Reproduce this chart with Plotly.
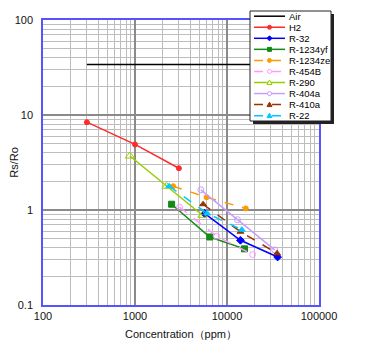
import plotly.graph_objects as go

series_names = ["Air", "H2", "R-32", "R-1234yf", "R-1234ze", "R-454B", "R-290", "R-404a", "R-410a", "R-22"]

x_tick_vals = [100, 1000, 10000, 100000]
x_tick_text = ["100", "1000", "10000", "100000"]
y_tick_vals = [0.1, 1, 10, 100]
y_tick_text = ["0.1", "1", "10", "100"]

air_x = [300, 30000]
air_y = [34, 34]
h2_x = [300, 1000, 3000]
h2_y = [8.4, 4.9, 2.75]
r32_x = [5700, 14000, 35500]
r32_y = [0.92, 0.48, 0.32]
r1234yf_x = [2500, 6500, 15500]
r1234yf_y = [1.15, 0.52, 0.39]
r1234ze_x = [2600, 6000, 16000]
r1234ze_y = [1.78, 1.36, 1.04]
r454b_x = [3050, 7700, 19000]
r454b_y = [1.07, 0.53, 0.34]
r290_x = [880, 2200, 5400]
r290_y = [3.7, 1.78, 0.88]
r404a_x = [5200, 13000, 33000]
r404a_y = [1.63, 0.79, 0.38]
r410a_x = [5500, 14000, 35000]
r410a_y = [1.15, 0.59, 0.35]
r22_x = [2350, 6100, 14500]
r22_y = [1.78, 0.92, 0.62]

xs = [air_x, h2_x, r32_x, r1234yf_x, r1234ze_x, r454b_x, r290_x, r404a_x, r410a_x, r22_x]
ys = [air_y, h2_y, r32_y, r1234yf_y, r1234ze_y, r454b_y, r290_y, r404a_y, r410a_y, r22_y]

colors = ["#000000", "#ff2a2a", "#0000ff", "#138a13", "#ff9a00", "#ff99ff", "#99cc00", "#c99cff", "#993300", "#00c8ff"]
dashes = ["solid", "solid", "solid", "solid", "dash", "dash", "solid", "solid", "dash", "dash"]
symbols = [None, "circle", "diamond", "square", "circle", "circle-open", "triangle-up-open", "circle-open", "triangle-up", "triangle-up"]
msizes = [0, 5, 6, 6, 5, 6, 8, 6, 6, 6]

fig = go.Figure()
for name, x, y, c, d, s, ms in zip(series_names, xs, ys, colors, dashes, symbols, msizes):
    mode = "lines" if s is None else "lines+markers"
    kw = dict(marker=dict(symbol=s, size=ms, color=c, line=dict(color=c, width=1))) if s else {}
    fig.add_trace(go.Scatter(x=x, y=y, mode=mode, name=name,
                             line=dict(color=c, width=1.5, dash=d), showlegend=False, **kw))

# page body has an 8px margin; layout expressed in reference pixel coords
OFF = 8
W, H = 369 - OFF, 357 - OFF
L, R, T, B = 43, 319, 20, 305
def px(xp):
    return (xp - L) / (R - L)
def py(yp):
    return (B - yp) / (B - T)

def marker_shape(sym, cx, cy, c, r):
    filled = not sym.endswith("open")
    fill = c if filled else "white"
    base = dict(xref="paper", yref="paper", fillcolor=fill, line=dict(color=c, width=1), layer="above")
    if sym.startswith("circle"):
        return dict(type="circle", x0=px(cx - r), x1=px(cx + r), y0=py(cy + r), y1=py(cy - r), **base)
    if sym == "square":
        return dict(type="rect", x0=px(cx - r), x1=px(cx + r), y0=py(cy + r), y1=py(cy - r), **base)
    if sym == "diamond":
        pts = [(cx, cy - r - 0.5), (cx + r + 0.5, cy), (cx, cy + r + 0.5), (cx - r - 0.5, cy)]
    else:
        pts = [(cx, cy - r - 0.5), (cx + r + 0.5, cy + r), (cx - r - 0.5, cy + r)]
    path = "M " + " L ".join(f"{px(a):.5f},{py(b):.5f}" for a, b in pts) + " Z"
    return dict(type="path", path=path, **base)

box = dict(x0=250, x1=331, y0=11, y1=121)
shapes = [
    dict(type="rect", xref="paper", yref="paper", x0=px(box["x0"] + 3), x1=px(box["x1"] + 3),
         y0=py(box["y1"] + 3), y1=py(box["y0"] + 3), fillcolor="#222222", line=dict(width=0), layer="above"),
    dict(type="rect", xref="paper", yref="paper", x0=px(box["x0"]), x1=px(box["x1"]),
         y0=py(box["y1"]), y1=py(box["y0"]), fillcolor="white", line=dict(color="#222222", width=1), layer="above"),
]
annotations = []
for i, (name, c, d, s, ms) in enumerate(zip(series_names, colors, dashes, symbols, msizes)):
    yy = 16.2 + 11.05 * i
    shapes.append(dict(type="line", xref="paper", yref="paper", x0=px(254), x1=px(285), y0=py(yy), y1=py(yy),
                       line=dict(color=c, width=1.5, dash="dash" if d == "dash" else "solid"), layer="above"))
    annotations.append(dict(x=px(286.5), y=py(yy), xref="paper", yref="paper", text=name, showarrow=False,
                            xanchor="left", yanchor="middle", font=dict(size=9.5, color="#000000")))
    if s:
        shapes.append(marker_shape(s, 269.5, yy, c, 2.0))

fig.update_layout(
    width=W, height=H,
    margin=dict(l=L - OFF, r=369 - R, t=T - OFF, b=357 - B, autoexpand=False),
    paper_bgcolor="white", plot_bgcolor="white",
    font=dict(family="Liberation Sans, Arial, sans-serif", size=11, color="#111111"),
    showlegend=False,
    shapes=shapes, annotations=annotations,
    xaxis=dict(type="log", range=[2, 5], tickvals=x_tick_vals, ticktext=x_tick_text, automargin=False,
               showgrid=True, gridcolor="#8a8a8a", gridwidth=1.5,
               minor=dict(dtick="D1", showgrid=True, gridcolor="#bdbdbd", gridwidth=1, ticks=""),
               showline=True, linecolor="#5555ff", linewidth=1.5, mirror=True, ticks="",
               title=dict(text="Concentration（ppm）", font=dict(size=11), standoff=9),
               tickfont=dict(size=11), zeroline=False),
    yaxis=dict(type="log", range=[-1, 2], tickvals=y_tick_vals, ticktext=y_tick_text, automargin=False,
               showgrid=True, gridcolor="#8a8a8a", gridwidth=1.5, ticklabelstandoff=6,
               minor=dict(dtick="D1", showgrid=True, gridcolor="#bdbdbd", gridwidth=1, ticks=""),
               showline=True, linecolor="#5555ff", linewidth=1.5, mirror=True, ticks="",
               title=dict(text="Rs/Ro", font=dict(size=11), standoff=4),
               tickfont=dict(size=11), zeroline=False),
)

fig.write_html("out.html")
